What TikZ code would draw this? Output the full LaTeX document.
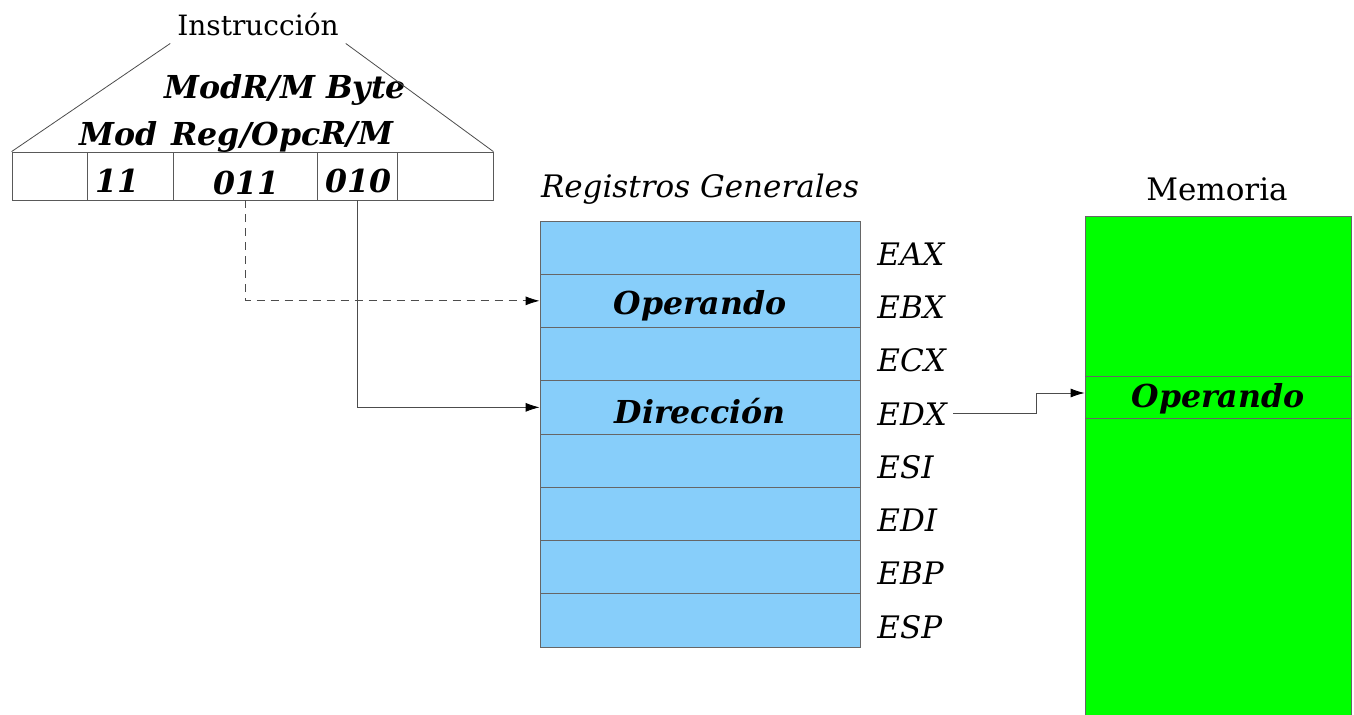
\documentclass[tikz,border=0pt]{standalone}
\usepackage{fontspec}
\setmainfont{DejaVu Serif}
\usetikzlibrary{positioning, arrows.meta}
\tikzset{
	field/.style = {draw=black!65, minimum height=24pt, inner sep=0pt},
	regcell/.style = {draw=black!60, fill=regblue, minimum width=160pt, minimum height=26.6pt, inner sep=0pt},
	memcell/.style = {draw=black!60, fill=memgreen, minimum width=133pt, minimum height=21pt, inner sep=0pt},
	bolditext/.style = {font=\fontsize{15.8}{19}\selectfont\bfseries\itshape, inner sep=0pt},
	itext/.style = {font=\fontsize{15.5}{18}\selectfont\itshape, inner sep=0pt},
	rtext/.style = {font=\fontsize{14}{18}\selectfont},
	conn/.style = {draw=black!70, -{Latex[length=7pt, width=4.5pt, black]}}
}
\definecolor{regblue}{HTML}{87CEFA}
\definecolor{memgreen}{HTML}{00FF00}
\begin{document}
\begin{tikzpicture}[x=0.5pt, y=-0.5pt]
	\useasboundingbox (0,0) rectangle (1354,715);

	% instruction fields
	\node [field, minimum width=37.5pt] (fA) at (49.5,176) {};
	\node [field, minimum width=43pt] (fMod) at (130,176) {};
	\node [field, minimum width=72pt] (fReg) at (245,176) {};
	\node [field, minimum width=40pt] (fRM) at (357,176) {};
	\node [field, minimum width=48pt] (fB) at (445,176) {};
	\node [bolditext] (vMod) at (117,181) {11};
	\node [bolditext] (vReg) at (246,183) {011};
	\node [bolditext] (vRM) at (358,181) {010};
	\node [bolditext] (tMod) at (119,134) {Mod};
	\node [bolditext] (tReg) at (246,137) {Reg/Opc};
	\node [bolditext] (tRM) at (357,134) {R/M};
	\node [bolditext] (tByte) at (285,90) {ModR/M Byte};
	\node [rtext] (instr) at (258,25) {Instrucción};
	\draw [black!70] (fA.north west) -- (instr.south west);
	\draw [black!70] (fB.north east) -- (instr.south east);

	% registros
	\node [itext] (regtitle) at (700,189) {Registros Generales};
	\foreach \r [count=\i from 0] in {EAX,EBX,ECX,EDX,ESI,EDI,EBP,ESP} {
		\node [regcell] (reg\r) at (700,{247.6+53.25*\i}) {};
		\node [itext, anchor=west] (lbl\r) at (877,{254+53.25*\i}) {\r};
	}
	\node [bolditext] (op1) at ([yshift=-2.5pt]regEBX) {Operando};
	\node [bolditext] (dir) at ([yshift=-2pt]regEDX) {Dirección};

	% memoria
	\draw [draw=black!60, fill=memgreen] (1085,216) rectangle (1351,720);
	\node [rtext, font=\fontsize{15.5}{18}\selectfont] (memtitle) at (1217,189) {Memoria};
	\node [memcell] (memOp) at (1218,397) {};
	\node [bolditext] (op2) at ([yshift=-1pt]memOp) {Operando};

	% conexiones
	\coordinate (edxstart) at ([xshift=3pt]lblEDX.east);
	\coordinate (edxbend) at (1036,0);
	\draw [conn, dashed, dash pattern=on 4pt off 3pt] (fReg.south) |- (regEBX.west);
	\draw [conn] (fRM.south) |- (regEDX.west);
	\draw [conn] (edxstart) -- (edxstart -| edxbend) |- ([yshift=2pt]memOp.west);
\end{tikzpicture}
\end{document}
